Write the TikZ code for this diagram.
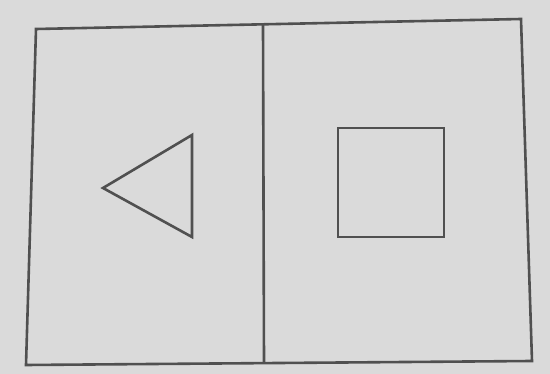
\documentclass[tikz,border=0pt]{standalone}
\definecolor{paper}{RGB}{218,218,218}
\definecolor{ink}{RGB}{80,80,80}
\begin{document}
\begin{tikzpicture}[x=1pt,y=-1pt,
  stroke/.style={draw=ink,line width=2.6pt,line join=miter}]
\fill[paper] (0,0) rectangle (550,374);
\useasboundingbox (0,0) rectangle (550,374);
% frame corners
\coordinate (tl) at (36,29);
\coordinate (tr) at (521,19);
\coordinate (br) at (532,361);
\coordinate (bl) at (26,365);
\coordinate (dt) at (263,24);
\coordinate (db) at (264,363);
\draw[stroke] (tl) -- (tr) -- (br) -- (bl) -- cycle;
\draw[stroke] (dt) -- (db);
% triangle
\coordinate (ta) at (103,188);
\coordinate (tb) at (192,135);
\coordinate (tc) at (192,237);
\draw[stroke] (ta) -- (tb) -- (tc) -- cycle;
% square
\coordinate (sa) at (338,128);
\coordinate (sb) at (444,128);
\coordinate (sc) at (444,237);
\coordinate (sd) at (338,237);
\draw[stroke] (sa) -- (sb) -- (sc) -- (sd) -- cycle;
\end{tikzpicture}
\end{document}
